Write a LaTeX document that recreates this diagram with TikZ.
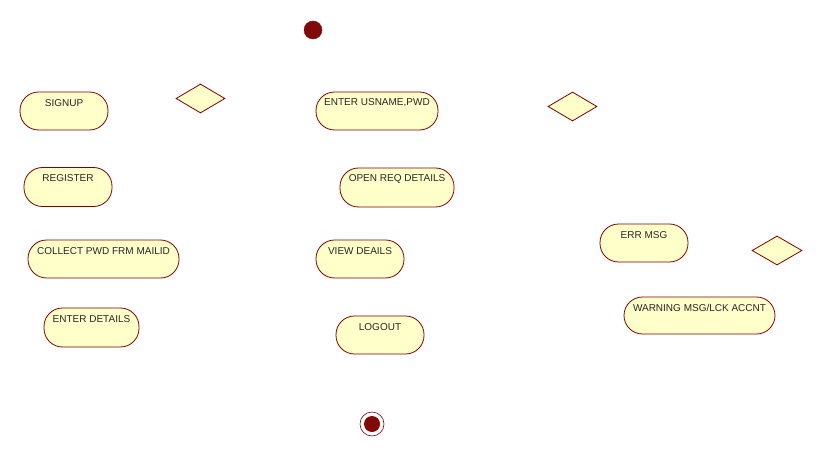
\documentclass[tikz,border=0pt]{standalone}
\usepackage{fontspec}
\setmainfont{Liberation Sans}
\usetikzlibrary{shapes.geometric}
\definecolor{actfill}{RGB}{255,255,202}
\definecolor{actline}{RGB}{128,0,0}
\definecolor{dotfill}{RGB}{128,10,10}
\tikzset{
  act/.style={draw=actline, fill=actfill, line width=0.8pt, rectangle, rounded corners=18.5pt, inner sep=0pt},
  lbl/.style={anchor=center, yshift=-11pt, inner sep=0pt, font=\fontsize{10}{12}\selectfont, text=black!85},
  dec/.style={draw=actline, fill=actfill, line width=0.8pt, diamond, inner sep=0pt, minimum width=49pt, minimum height=29pt},
  startdot/.style={circle, fill=dotfill, draw=dotfill, minimum size=18pt, inner sep=0pt},
  enddot/.style={circle, draw=actline, fill=white, line width=0.6pt, minimum size=24pt, inner sep=0pt}
}
\begin{document}
\begin{tikzpicture}[x=1pt,y=-1pt]
\path[use as bounding box, fill=white] (0,0) rectangle (821,457);
\node[startdot] (start) at (313,30) {};
\node[enddot] (end) at (372,424) {};
\node[circle, fill=dotfill, minimum size=16pt, inner sep=0pt] (endin) at (end.center) {};

\node[act, minimum width=88pt, minimum height=38pt, label={[lbl]north:SIGNUP}] (signup) at (64,111) {};
\node[act, minimum width=88pt, minimum height=39pt, label={[lbl]north:REGISTER}] (register) at (68,187) {};
\node[act, minimum width=151pt, minimum height=38pt, label={[lbl]north:COLLECT PWD FRM MAILID}] (collect) at (103.5,259) {};
\node[act, minimum width=95pt, minimum height=39pt, label={[lbl]north:ENTER DETAILS}] (enterdet) at (91.5,327.5) {};

\node[act, minimum width=122pt, minimum height=38pt, label={[lbl]north:ENTER USNAME,PWD}] (enteruser) at (377,111) {};
\node[act, minimum width=114pt, minimum height=39pt, label={[lbl]north:OPEN REQ DETAILS}] (openreq) at (397,187.5) {};
\node[act, minimum width=88pt, minimum height=38pt, label={[lbl]north:VIEW DEAILS}] (view) at (360,259) {};
\node[act, minimum width=88pt, minimum height=38pt, label={[lbl]north:LOGOUT}] (logout) at (380,335) {};

\node[act, minimum width=88pt, minimum height=38pt, label={[lbl]north:ERR MSG}] (errmsg) at (644,243) {};
\node[act, minimum width=151pt, minimum height=37pt, label={[lbl]north:WARNING MSG/LCK ACCNT}] (warning) at (699.5,315.5) {};

\node[dec] (d1) at (200.5,98.5) {};
\node[dec] (d2) at (572.5,106.5) {};
\node[dec, minimum width=50pt] (d3) at (777,250.5) {};
\end{tikzpicture}
\end{document}
